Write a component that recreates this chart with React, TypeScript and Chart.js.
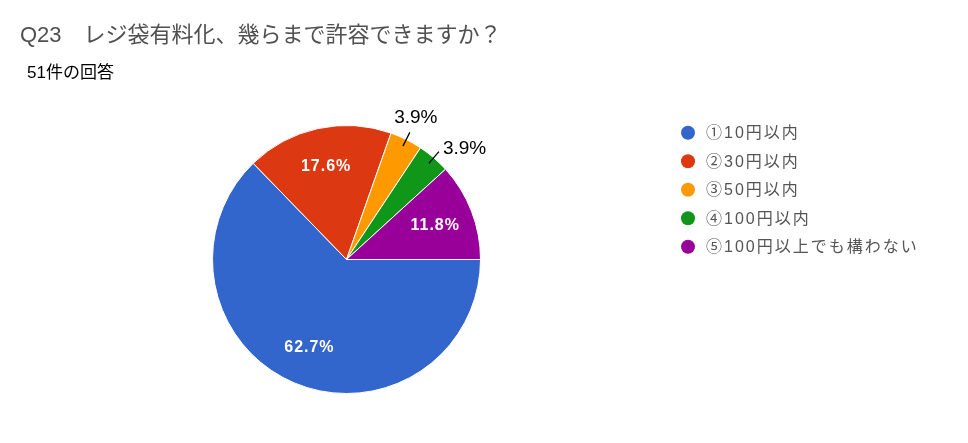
import { useEffect, useRef } from "react";
import { Chart, PieController, ArcElement } from "chart.js";
import type { ChartConfiguration, Plugin } from "chart.js";

Chart.register(PieController, ArcElement);

const TITLE = "Q23　レジ袋有料化、幾らまで許容できますか？";
const SUBTITLE = "51件の回答";
const labels = ["①10円以内", "②30円以内", "③50円以内", "④100円以内", "⑤100円以上でも構わない"];
const counts = [32, 9, 2, 2, 6];
const colors = ["#3366cc", "#dc3912", "#ff9900", "#109618", "#990099"];

const FONT = "'Liberation Sans', Arial, 'Noto Sans CJK JP', sans-serif";
const total = counts.reduce((a, b) => a + b, 0);
const pct = (v: number) => ((v / total) * 100).toFixed(1) + "%";

// small slices get their label outside with a leader line; nudges are for the text only
const outsideNudge: ({ dx: number; dy: number; align: CanvasTextAlign } | null)[] = [
  null,
  null,
  { dx: 6, dy: -9, align: "center" },
  { dx: 4, dy: 2, align: "left" },
  null,
];

const decorations: Plugin<"pie"> = {
  id: "decorations",
  afterDraw(chart) {
    const ctx = chart.ctx as any;
    ctx.save();

    // title + response count
    ctx.textAlign = "left";
    ctx.textBaseline = "alphabetic";
    ctx.fillStyle = "#505050";
    ctx.font = `22px ${FONT}`;
    ctx.fillText(TITLE, 20, 42);
    ctx.fillStyle = "#000";
    ctx.font = `17px ${FONT}`;
    ctx.fillText(SUBTITLE, 27, 78);

    // percentage labels
    const meta = chart.getDatasetMeta(0);
    meta.data.forEach((el, i) => {
      const { x, y, startAngle, endAngle, outerRadius } = (el as ArcElement).getProps(
        ["x", "y", "startAngle", "endAngle", "outerRadius"],
        true
      ) as any;
      const mid = (startAngle + endAngle) / 2;
      const cos = Math.cos(mid);
      const sin = Math.sin(mid);
      const text = pct(counts[i]);
      const o = outsideNudge[i];
      if (!o) {
        ctx.font = `bold 16px ${FONT}`;
        ctx.letterSpacing = "1px";
        ctx.fillStyle = "#fff";
        ctx.textAlign = "center";
        ctx.textBaseline = "middle";
        ctx.fillText(text, x + cos * outerRadius * 0.71, y + sin * outerRadius * 0.71);
        ctx.letterSpacing = "0px";
      } else {
        const x1 = x + cos * outerRadius * 0.945;
        const y1 = y + sin * outerRadius * 0.945;
        const x2 = x + cos * outerRadius * 1.06;
        const y2 = y + sin * outerRadius * 1.06;
        ctx.strokeStyle = "#000";
        ctx.lineWidth = 1.3;
        ctx.beginPath();
        ctx.moveTo(x1, y1);
        ctx.lineTo(x2, y2);
        ctx.stroke();
        ctx.font = `19px ${FONT}`;
        ctx.fillStyle = "#000";
        ctx.textAlign = o.align;
        ctx.textBaseline = "alphabetic";
        ctx.fillText(text, x2 + o.dx, y2 + o.dy);
      }
    });

    // legend
    const bg = chart.data.datasets[0].backgroundColor as string[];
    ctx.font = `16px ${FONT}`;
    ctx.letterSpacing = "2px";
    ctx.textAlign = "left";
    ctx.textBaseline = "middle";
    (chart.data.labels as string[]).forEach((lab, i) => {
      const cy = 132.8 + i * 28.5;
      ctx.fillStyle = bg[i];
      ctx.beginPath();
      ctx.arc(688, cy, 7, 0, Math.PI * 2);
      ctx.fill();
      ctx.fillStyle = "#555";
      ctx.fillText(lab, 706, cy + 1);
    });
    ctx.letterSpacing = "0px";
    ctx.restore();
  },
};

export default function App() {
  const canvasRef = useRef<HTMLCanvasElement>(null);

  useEffect(() => {
    if (!canvasRef.current) return;
    const config: ChartConfiguration<"pie"> = {
      type: "pie",
      data: {
        labels,
        datasets: [
          {
            data: counts,
            backgroundColor: colors,
            borderColor: "#fff",
            borderWidth: 1,
          },
        ],
      },
      options: {
        responsive: true,
        maintainAspectRatio: false,
        animation: false,
        rotation: 90,
        layout: { padding: { left: 212, top: 125, right: 487, bottom: 49 } },
        plugins: { legend: { display: false }, tooltip: { enabled: false } },
        events: [],
      },
      plugins: [decorations],
    };
    const chart = new Chart(canvasRef.current, config);
    return () => chart.destroy();
  }, []);

  return (
    <div style={{ position: "fixed", left: 0, top: 0, width: 968, height: 443, background: "#fff" }}>
      <canvas ref={canvasRef} />
    </div>
  );
}
